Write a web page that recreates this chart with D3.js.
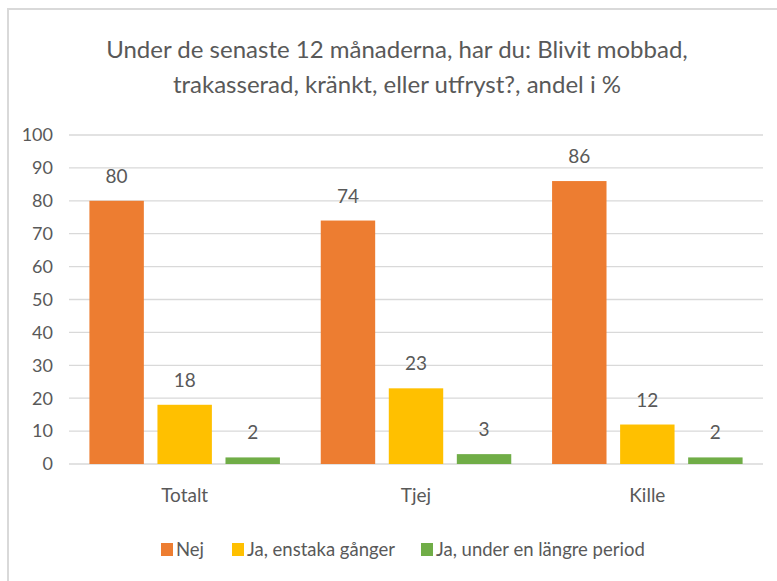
<!DOCTYPE html>
<html lang="sv">
<head>
<meta charset="utf-8">
<script src="https://cdn.jsdelivr.net/npm/d3@7"></script>
<style>
  body { margin: 0; background: #fff; }
  text { font-family: Lato, "Open Sans", sans-serif; fill: #595959; }
</style>
</head>
<body>
<div id="chart"></div>
<script>
// data
var kategorier = ["Totalt", "Tjej", "Kille"];
var serier = ["Nej", "Ja, enstaka gånger", "Ja, under en längre period"];
var nej = [80, 74, 86];
var enstaka = [18, 23, 12];
var langre = [2, 3, 2];
var farger = ["#ed7d31", "#ffc000", "#70ad47"];
var yTicks = [0, 10, 20, 30, 40, 50, 60, 70, 80, 90, 100];

var varden = [nej, enstaka, langre];

var W = 777, H = 581;
var m = { top: 135, left: 69, right: 14, bottom: 117 };

var svg = d3.select("#chart").append("svg").attr("width", W).attr("height", H);

// ram runt diagrammet
svg.append("path")
  .attr("d", "M8," + H + " L8,9 L" + W + ",9")
  .attr("fill", "none").attr("stroke", "#d9d9d9").attr("stroke-width", 2);

// titel
var titel = svg.append("text").attr("text-anchor", "middle")
  .style("font-size", "24px");
titel.append("tspan").attr("x", 397).attr("y", 58)
  .text("Under de senaste 12 månaderna, har du: Blivit mobbad,");
titel.append("tspan").attr("x", 397).attr("y", 93)
  .text("trakasserad, kränkt, eller utfryst?, andel i %");

var x0 = d3.scaleBand().domain(kategorier).range([m.left, W - m.right]);
var x1 = d3.scaleBand().domain(serier).range([0, x0.bandwidth()])
  .paddingInner(0.2).paddingOuter(0.3);
var y = d3.scaleLinear().domain([0, 100]).range([H - m.bottom, m.top]);

// rutnät
svg.append("g").selectAll("line").data(yTicks).join("line")
  .attr("x1", m.left).attr("x2", W - m.right)
  .attr("y1", function(d) { return y(d); }).attr("y2", function(d) { return y(d); })
  .attr("stroke", "#d9d9d9").attr("stroke-width", 1.3);

// y-axel etiketter
svg.append("g").selectAll("text").data(yTicks).join("text")
  .attr("x", 53).attr("y", function(d) { return y(d); })
  .attr("dy", "0.35em").attr("text-anchor", "end")
  .style("font-size", "18px")
  .text(function(d) { return d; });

// staplar
var grupper = svg.append("g").selectAll("g").data(kategorier).join("g")
  .attr("transform", function(d) { return "translate(" + x0(d) + ",0)"; });

grupper.each(function(kat, i) {
  var g = d3.select(this);
  serier.forEach(function(s, j) {
    var v = varden[j][i];
    g.append("rect")
      .attr("x", x1(s)).attr("width", x1.bandwidth())
      .attr("y", y(v)).attr("height", y(0) - y(v))
      .attr("fill", farger[j]);
    g.append("text")
      .attr("x", x1(s) + x1.bandwidth() / 2).attr("y", y(v) - 18)
      .attr("text-anchor", "middle")
      .style("font-size", "19px")
      .text(v);
  });
});

// kategori etiketter
svg.append("g").selectAll("text").data(kategorier).join("text")
  .attr("x", function(d) { return x0(d) + x0.bandwidth() / 2; })
  .attr("y", 502).attr("text-anchor", "middle")
  .style("font-size", "19px")
  .text(function(d) { return d; });

// förklaring
var legX = [161, 232, 421];
var leg = svg.append("g").selectAll("g").data(serier).join("g")
  .attr("transform", function(d, i) { return "translate(" + legX[i] + ",543)"; });
leg.append("rect").attr("width", 12).attr("height", 13)
  .attr("fill", function(d, i) { return farger[i]; });
leg.append("text").attr("x", 15).attr("y", 13)
  .style("font-size", "18.5px")
  .text(function(d) { return d; });
</script>
</body>
</html>
